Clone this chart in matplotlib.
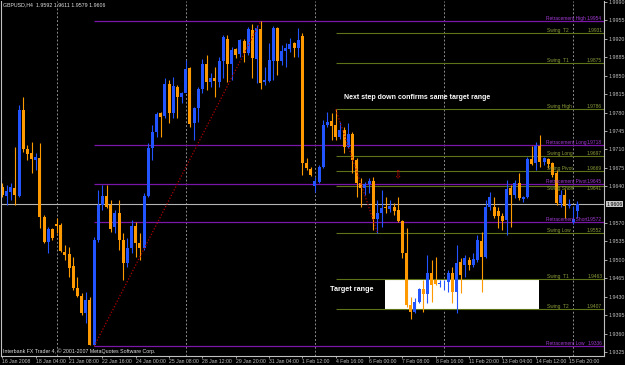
import matplotlib
matplotlib.use('Agg')
import matplotlib.pyplot as plt
import matplotlib.transforms as mtransforms
from matplotlib.patches import Rectangle

# ---------------- data (GBPUSD H4 candles) ----------------
opens = [1.9639, 1.9622, 1.9629, 1.9637, 1.9622, 1.9785, 1.9711, 1.9703, 1.9690, 1.9694,
         1.9582, 1.9534, 1.9559, 1.9568, 1.9566, 1.9515, 1.9511, 1.9488, 1.9447, 1.9431,
         1.9399, 1.9424, 1.9338, 1.9538, 1.9604, 1.9622, 1.9604, 1.9563, 1.9589, 1.9538,
         1.9494, 1.9523, 1.9564, 1.9532, 1.9523, 1.9622, 1.9713, 1.9743, 1.9779, 1.9773,
         1.9834, 1.9779, 1.9829, 1.9810, 1.9817, 1.9865, 1.9760, 1.9789, 1.9825, 1.9872,
         1.9838, 1.9846, 1.9838, 1.9878, 1.9920, 1.9872, 1.9901, 1.9891, 1.9916, 1.9893,
         1.9937, 1.9882, 1.9939, 1.9838, 1.9840, 1.9878, 1.9941, 1.9878, 1.9897, 1.9901,
         1.9912, 1.9903, 1.9925, 1.9684, 1.9673, 1.9641, 1.9648, 1.9677, 1.9756, 1.9764,
         1.9756, 1.9734, 1.9747, 1.9715, 1.9739, 1.9690, 1.9646, 1.9637, 1.9644, 1.9650,
         1.9578, 1.9589, 1.9601, 1.9597, 1.9601, 1.9595, 1.9574, 1.9513, 1.9414, 1.9401,
         1.9420, 1.9445, 1.9435, 1.9475, 1.9462, 1.9454, 1.9456, 1.9458, 1.9475, 1.9439,
         1.9496, 1.9490, 1.9500, 1.9490, 1.9500, 1.9536, 1.9506, 1.9601, 1.9601, 1.9593,
         1.9583, 1.9576, 1.9637, 1.9624, 1.9646, 1.9616, 1.9620, 1.9692, 1.9684, 1.9716,
         1.9686, 1.9692, 1.9684, 1.9665, 1.9608, 1.9624, 1.9603, 1.9572, 1.9592]
highs = [1.9646, 1.9642, 1.9646, 1.9715, 1.9794, 1.9810, 1.9718, 1.9724, 1.9703, 1.9722,
         1.9585, 1.9563, 1.9561, 1.9580, 1.9570, 1.9528, 1.9525, 1.9506, 1.9468, 1.9437,
         1.9439, 1.9430, 1.9544, 1.9633, 1.9642, 1.9642, 1.9614, 1.9595, 1.9614, 1.9551,
         1.9542, 1.9576, 1.9572, 1.9551, 1.9627, 1.9722, 1.9756, 1.9781, 1.9781, 1.9846,
         1.9842, 1.9848, 1.9832, 1.9819, 1.9880, 1.9867, 1.9791, 1.9829, 1.9882, 1.9889,
         1.9855, 1.9867, 1.9886, 1.9927, 1.9927, 1.9904, 1.9903, 1.9920, 1.9920, 1.9942,
         1.9948, 1.9946, 1.9954, 1.9867, 1.9912, 1.9944, 1.9942, 1.9908, 1.9912, 1.9922,
         1.9914, 1.9941, 1.9931, 1.9694, 1.9677, 1.9658, 1.9680, 1.9766, 1.9781, 1.9779,
         1.9786, 1.9762, 1.9753, 1.9760, 1.9743, 1.9694, 1.9656, 1.9648, 1.9656, 1.9658,
         1.9614, 1.9633, 1.9620, 1.9614, 1.9608, 1.9620, 1.9576, 1.9561, 1.9430, 1.9428,
         1.9447, 1.9462, 1.9510, 1.9500, 1.9506, 1.9462, 1.9462, 1.9481, 1.9487, 1.9528,
         1.9504, 1.9510, 1.9506, 1.9513, 1.9547, 1.9553, 1.9614, 1.9629, 1.9620, 1.9601,
         1.9589, 1.9652, 1.9642, 1.9652, 1.9665, 1.9622, 1.9696, 1.9716, 1.9724, 1.9737,
         1.9696, 1.9694, 1.9686, 1.9671, 1.9633, 1.9635, 1.9616, 1.9603, 1.9611]
lows = [1.9620, 1.9604, 1.9614, 1.9604, 1.9620, 1.9705, 1.9690, 1.9665, 1.9671, 1.9561,
        1.9532, 1.9513, 1.9538, 1.9551, 1.9515, 1.9500, 1.9468, 1.9443, 1.9430, 1.9395,
        1.9380, 1.9338, 1.9336, 1.9534, 1.9595, 1.9599, 1.9553, 1.9551, 1.9519, 1.9462,
        1.9487, 1.9513, 1.9506, 1.9500, 1.9519, 1.9620, 1.9690, 1.9734, 1.9734, 1.9770,
        1.9760, 1.9770, 1.9770, 1.9798, 1.9827, 1.9753, 1.9728, 1.9762, 1.9817, 1.9823,
        1.9829, 1.9810, 1.9829, 1.9846, 1.9838, 1.9842, 1.9884, 1.9886, 1.9876, 1.9889,
        1.9846, 1.9836, 1.9825, 1.9832, 1.9838, 1.9842, 1.9851, 1.9870, 1.9867, 1.9895,
        1.9886, 1.9886, 1.9661, 1.9671, 1.9660, 1.9629, 1.9646, 1.9675, 1.9753, 1.9728,
        1.9728, 1.9730, 1.9703, 1.9713, 1.9665, 1.9620, 1.9601, 1.9624, 1.9627, 1.9557,
        1.9552, 1.9563, 1.9589, 1.9591, 1.9585, 1.9572, 1.9504, 1.9411, 1.9388, 1.9399,
        1.9418, 1.9401, 1.9418, 1.9420, 1.9452, 1.9449, 1.9443, 1.9439, 1.9418, 1.9399,
        1.9437, 1.9468, 1.9481, 1.9487, 1.9496, 1.9439, 1.9504, 1.9595, 1.9580, 1.9561,
        1.9557, 1.9547, 1.9563, 1.9618, 1.9614, 1.9610, 1.9618, 1.9680, 1.9671, 1.9677,
        1.9680, 1.9675, 1.9658, 1.9604, 1.9601, 1.9580, 1.9599, 1.9568, 1.9579]
closes = [1.9624, 1.9631, 1.9639, 1.9624, 1.9785, 1.9711, 1.9701, 1.9692, 1.9696, 1.9582,
          1.9534, 1.9559, 1.9542, 1.9564, 1.9517, 1.9510, 1.9485, 1.9447, 1.9431, 1.9399,
          1.9424, 1.9338, 1.9538, 1.9604, 1.9622, 1.9601, 1.9559, 1.9589, 1.9538, 1.9494,
          1.9523, 1.9564, 1.9532, 1.9523, 1.9622, 1.9713, 1.9743, 1.9777, 1.9771, 1.9834,
          1.9779, 1.9831, 1.9810, 1.9817, 1.9863, 1.9758, 1.9789, 1.9825, 1.9872, 1.9838,
          1.9846, 1.9840, 1.9878, 1.9924, 1.9872, 1.9899, 1.9889, 1.9918, 1.9893, 1.9939,
          1.9884, 1.9941, 1.9836, 1.9842, 1.9880, 1.9941, 1.9878, 1.9897, 1.9903, 1.9910,
          1.9903, 1.9918, 1.9684, 1.9675, 1.9661, 1.9650, 1.9677, 1.9756, 1.9762, 1.9754,
          1.9734, 1.9747, 1.9715, 1.9739, 1.9690, 1.9646, 1.9637, 1.9644, 1.9650, 1.9578,
          1.9589, 1.9599, 1.9599, 1.9603, 1.9593, 1.9574, 1.9513, 1.9414, 1.9401, 1.9420,
          1.9445, 1.9435, 1.9475, 1.9452, 1.9454, 1.9456, 1.9456, 1.9475, 1.9439, 1.9494,
          1.9471, 1.9504, 1.9490, 1.9502, 1.9538, 1.9506, 1.9601, 1.9620, 1.9583, 1.9583,
          1.9574, 1.9635, 1.9624, 1.9646, 1.9618, 1.9620, 1.9692, 1.9682, 1.9716, 1.9686,
          1.9694, 1.9682, 1.9661, 1.9608, 1.9624, 1.9603, 1.9606, 1.9578, 1.9606]

x_tick_labels = ['16 Jan 2008', '18 Jan 04:00', '21 Jan 08:00', '22 Jan 16:00', '24 Jan 00:00',
                 '25 Jan 08:00', '28 Jan 12:00', '29 Jan 20:00', '31 Jan 04:00', '1 Feb 12:00',
                 '4 Feb 16:00', '6 Feb 00:00', '7 Feb 08:00', '8 Feb 16:00', '11 Feb 20:00',
                 '13 Feb 04:00', '14 Feb 12:00', '15 Feb 20:00']
x_tick_bars = [0, 8, 16, 24, 32, 40, 48, 56, 64, 72, 80, 88, 96, 104, 112, 120, 128, 136]
grid_bars = [13, 44, 75, 106, 137]
y_ticks = [1.9990, 1.9955, 1.9920, 1.9885, 1.9850, 1.9815, 1.9780, 1.9745, 1.9710, 1.9675,
           1.9640, 1.9570, 1.9535, 1.9500, 1.9465, 1.9430, 1.9395, 1.9360, 1.9325]

retr_names = ['Retracement High', 'Retracement Long', 'Retracement Pivot', 'Retracement Short', 'Retracement Low']
retr_values = [1.9954, 1.9718, 1.9645, 1.9572, 1.9336]
retr_start_bar = 22
swing_names = ['Swing  T2', 'Swing  T1', 'Swing High', 'Swing Long', 'Swing Pivot', 'Swing Short',
               'Swing Low', 'Swing  T1', 'Swing  T2']
swing_values = [1.9931, 1.9875, 1.9786, 1.9697, 1.9669, 1.9641, 1.9552, 1.9463, 1.9407]
swing_start_bar = 80

fib_line_bars = [22, 62]
fib_line_prices = [1.9336, 1.9954]
swing_line_bars = [80, 90]
swing_line_prices = [1.9786, 1.9552]

box_bars = [91.8, 128.8]
box_prices = [1.9407, 1.9463]

current_price = 1.9606
symbol_header = 'GBPUSD,H4  1.9592 1.9611 1.9579 1.9606'

# ---------------- style ----------------
BULL = '#2255ff'
BEAR = '#ff9900'
PURPLE_LINE = '#7a16a8'
PURPLE_TXT = '#a03ad0'
OLIVE_LINE = '#5e7218'
OLIVE_TXT = '#8a9c3a'
AXCOL = '#c0c0c0'
SMALL_FONT = 'Liberation Sans'
SMALL_FS = 3.5

plt.rcParams['font.family'] = ['Liberation Sans', 'DejaVu Sans']

fig = plt.figure(figsize=(6.25, 3.65), dpi=100, facecolor='black')
ax = fig.add_axes([1 / 625, 9 / 365, 603 / 625, 355 / 365], facecolor='black')

n = len(opens)
xmin, xmax = -0.36, 144.4
ax.set_xlim(xmin, xmax)
ax.set_ylim(1.93174, 1.99919)

# grid lines
for gb in grid_bars:
    ax.axvline(gb, color='#8c8c8c', lw=0.7, ls=(0, (2, 2)), zorder=0.5)

# target box (white) under candles
ax.add_patch(Rectangle((box_bars[0], box_prices[0]), box_bars[1] - box_bars[0],
                       box_prices[1] - box_prices[0], facecolor='white', edgecolor='none', zorder=1))

# level lines
for v in retr_values:
    ax.hlines(v, retr_start_bar, xmax, color=PURPLE_LINE, lw=0.9, zorder=1.5)
for v in swing_values:
    ax.hlines(v, swing_start_bar, xmax, color=OLIVE_LINE, lw=0.8, zorder=1.5)
ax.axhline(current_price, color='#b4b4b4', lw=0.8, zorder=1.6)

# candles
for i in range(n):
    o, h, l, c = opens[i], highs[i], lows[i], closes[i]
    col = BULL if c >= o else BEAR
    ax.vlines(i, l, h, color=col, lw=0.8, zorder=2)
    lo, hi = min(o, c), max(o, c)
    ax.bar(i, max(hi - lo, 0.00006), bottom=lo, width=0.72, color=col, edgecolor='none', zorder=2.1)

# red dotted trend lines
ax.plot(fib_line_bars, fib_line_prices, color='#b00000', lw=0.9, ls=(0, (1, 1.5)), zorder=2.5)
ax.plot(swing_line_bars, swing_line_prices, color='#b00000', lw=0.9, ls=(0, (1, 1.5)), zorder=2.5)

# level labels
trans = mtransforms.blended_transform_factory(ax.transAxes, ax.transData)
for name, v in zip(retr_names, retr_values):
    ax.text(0.904, v, name, transform=trans, color=PURPLE_TXT, fontsize=SMALL_FS, family=SMALL_FONT,
            ha='left', va='bottom', zorder=3)
    ax.text(0.997, v, '%.4f' % v, transform=trans, color=PURPLE_TXT, fontsize=SMALL_FS, family=SMALL_FONT,
            ha='right', va='bottom', zorder=3)
for name, v in zip(swing_names, swing_values):
    # the Swing Short label sits right under Retracement Pivot; put it below its line
    va = 'top' if name == 'Swing Short' else 'bottom'
    ax.text(0.906, v, name, transform=trans, color=OLIVE_TXT, fontsize=SMALL_FS, family=SMALL_FONT,
            ha='left', va=va, zorder=3)
    ax.text(0.997, v, '%.4f' % v, transform=trans, color=OLIVE_TXT, fontsize=SMALL_FS, family=SMALL_FONT,
            ha='right', va=va, zorder=3)

# annotations
ax.text(99.5, 1.9808, 'Next step down confirms same target range', color='white', fontsize=5,
        fontweight='bold', ha='center', va='center', zorder=3)
ax.text(78.6, 1.9443, 'Target range', color='white', fontsize=5.2, fontweight='bold',
        ha='left', va='center', zorder=3)
ax.text(94.7, 1.9661, '\u21e9', color='#c00000', fontsize=7, ha='center', va='center',
        family='DejaVu Sans', zorder=3)

ax.text(0.004, 0.995, symbol_header, transform=ax.transAxes, color='#e0e0e0', fontsize=SMALL_FS + 0.3,
        family=SMALL_FONT, ha='left', va='top', zorder=3)
ax.text(0.004, 0.006, 'Interbank FX Trader 4, \u00a9 2001-2007 MetaQuotes Software Corp.',
        transform=ax.transAxes, color='#e0e0e0', fontsize=SMALL_FS + 0.3, family=SMALL_FONT,
        ha='left', va='bottom', zorder=3)

# axes styling
ax.spines['top'].set_visible(False)
for s in ['left', 'right', 'bottom']:
    ax.spines[s].set_color(AXCOL)
    ax.spines[s].set_linewidth(0.8)

ax.set_xticks(x_tick_bars)
ax.set_xticklabels(x_tick_labels)
for lab in ax.get_xticklabels():
    lab.set_ha('left')
    lab.set_family(SMALL_FONT)
ax.tick_params(axis='x', colors=AXCOL, length=1.5, width=0.6, labelsize=SMALL_FS + 0.2, pad=0.8)

ax.yaxis.tick_right()
ax.set_yticks(y_ticks)
ax.set_yticklabels(['%.4f' % t for t in y_ticks])
for lab in ax.get_yticklabels():
    lab.set_family(SMALL_FONT)
ax.tick_params(axis='y', colors=AXCOL, length=2, width=0.6, labelsize=SMALL_FS + 0.3, pad=1.2)

ax.text(1.004, current_price, '%.4f' % current_price, transform=trans, color='black', fontsize=SMALL_FS + 0.3,
        family=SMALL_FONT, ha='left', va='center', bbox=dict(facecolor='#c8c8c8', edgecolor='none', pad=0.5),
        clip_on=False, zorder=4)

fig.savefig('out.png', dpi=100, facecolor='black')
